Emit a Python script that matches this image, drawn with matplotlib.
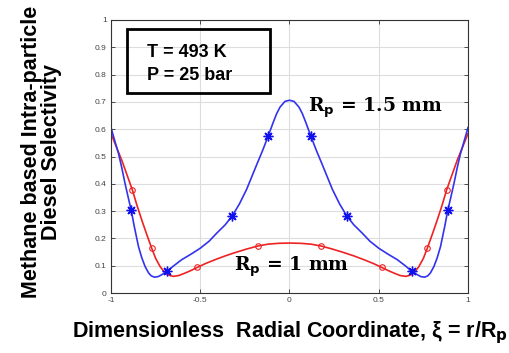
import numpy as np
import matplotlib.pyplot as plt
from matplotlib.patches import Rectangle

# Rp = 1.5 mm (blue curve)
xi_15 = [-1.00, -0.98, -0.958, -0.94, -0.921, -0.90, -0.887, -0.87, -0.846, -0.827,
         -0.809, -0.79, -0.775, -0.757, -0.736, -0.716, -0.686, -0.65, -0.604, -0.55,
         -0.50, -0.45, -0.408, -0.36, -0.32, -0.28, -0.24, -0.21, -0.18, -0.15,
         -0.12, -0.09, -0.072, -0.053, -0.025, 0.0,
         0.025, 0.053, 0.072, 0.09, 0.12, 0.15, 0.18, 0.21, 0.24, 0.28,
         0.32, 0.36, 0.408, 0.45, 0.50, 0.55, 0.604, 0.65, 0.686, 0.716,
         0.736, 0.757, 0.775, 0.79, 0.809, 0.827, 0.846, 0.87, 0.887, 0.90,
         0.921, 0.94, 0.958, 0.98, 1.00]
sel_15 = [0.606, 0.56, 0.511, 0.46, 0.40, 0.34, 0.304, 0.245, 0.170, 0.128,
          0.097, 0.074, 0.063, 0.058, 0.060, 0.067, 0.079, 0.099, 0.122, 0.143,
          0.164, 0.19, 0.219, 0.25, 0.283, 0.327, 0.38, 0.428, 0.476, 0.523,
          0.574, 0.627, 0.657, 0.681, 0.702, 0.706,
          0.702, 0.681, 0.657, 0.627, 0.574, 0.523, 0.476, 0.428, 0.38, 0.327,
          0.283, 0.25, 0.219, 0.19, 0.164, 0.143, 0.122, 0.099, 0.079, 0.067,
          0.060, 0.058, 0.063, 0.074, 0.097, 0.128, 0.170, 0.245, 0.304, 0.34,
          0.40, 0.46, 0.511, 0.56, 0.606]
mk_x_15 = [-0.887, -0.686, -0.32, -0.12, 0.12, 0.32, 0.686, 0.887]
mk_y_15 = [0.304, 0.079, 0.283, 0.574, 0.574, 0.283, 0.079, 0.304]

# Rp = 1 mm (red curve)
xi_10 = [-1.00, -0.97, -0.94, -0.91, -0.88, -0.855, -0.828, -0.80, -0.772, -0.75,
         -0.725, -0.705, -0.688, -0.67, -0.651, -0.62, -0.585, -0.55, -0.516, -0.47,
         -0.417, -0.36, -0.305, -0.24, -0.178, -0.12, -0.06, 0.0,
         0.06, 0.12, 0.178, 0.24, 0.305, 0.36, 0.417, 0.47, 0.516, 0.55,
         0.585, 0.62, 0.651, 0.67, 0.688, 0.705, 0.725, 0.75, 0.772, 0.80,
         0.828, 0.855, 0.88, 0.91, 0.94, 0.97, 1.00]
sel_10 = [0.584, 0.535, 0.487, 0.432, 0.377, 0.322, 0.268, 0.215, 0.164, 0.127,
          0.097, 0.080, 0.070, 0.064, 0.061, 0.064, 0.073, 0.083, 0.094, 0.108,
          0.122, 0.136, 0.148, 0.161, 0.172, 0.179, 0.182, 0.183,
          0.182, 0.179, 0.172, 0.161, 0.148, 0.136, 0.122, 0.108, 0.094, 0.083,
          0.073, 0.064, 0.061, 0.064, 0.070, 0.080, 0.097, 0.127, 0.164, 0.215,
          0.268, 0.322, 0.377, 0.432, 0.487, 0.535, 0.584]
mk_x_10 = [-0.88, -0.772, -0.516, -0.178, 0.178, 0.516, 0.772, 0.88]
mk_y_10 = [0.377, 0.164, 0.094, 0.172, 0.172, 0.094, 0.164, 0.377]

x_ticks = [-1, -0.5, 0, 0.5, 1]
x_labels = ["-1", "-0.5", "0", "0.5", "1"]
y_ticks = [0, 0.1, 0.2, 0.3, 0.4, 0.5, 0.6, 0.7, 0.8, 0.9, 1]
y_labels = ["0", "0.1", "0.2", "0.3", "0.4", "0.5", "0.6", "0.7", "0.8", "0.9", "1"]

plt.rcParams['font.family'] = ['Liberation Sans', 'DejaVu Sans']

fig = plt.figure(figsize=(5.10, 3.53), dpi=100)
ax = fig.add_axes([111/510, 60/353, 357/510, 273/353])

ax.plot(xi_10, sel_10, color="#ee2222", lw=1.2)
ax.plot(mk_x_10, mk_y_10, ls="none", marker="o", ms=4, mfc="none", mec="#ee2222", mew=0.8)
ax.plot(xi_15, sel_15, color="#3333ee", lw=1.2)
ax.plot(mk_x_15, mk_y_15, ls="none", marker=(8, 2, 0), ms=7, color="#1111ee", mew=1.0)

ax.set_xlim(-1, 1); ax.set_ylim(0, 1)
ax.set_xticks(x_ticks); ax.set_xticklabels(x_labels)
ax.set_yticks(y_ticks); ax.set_yticklabels(y_labels)
ax.tick_params(direction="in", length=3, width=0.6, labelsize=6, labelcolor="#444444",
               color="#333333", top=True, right=True, pad=3)
ax.grid(True, color="#dddddd", lw=0.8)
for s in ax.spines.values():
    s.set_color("#333333"); s.set_linewidth(0.8)

# condition box
ax.add_patch(Rectangle((0.044, 0.731), 0.401, 0.236, transform=ax.transAxes,
                       fill=False, lw=2, ec="black", zorder=5))
ax.text(0.10, 0.864, "T = 493 K", transform=ax.transAxes, fontsize=13,
        fontweight="bold", va="baseline", ha="left")
ax.text(0.10, 0.780, "P = 25 bar", transform=ax.transAxes, fontsize=13,
        fontweight="bold", va="baseline", ha="left")

ax.text(0.553, 0.665, r"R$_\mathbf{p}$ = 1.5 mm", transform=ax.transAxes,
        fontsize=13.5, fontweight="bold", family="DejaVu Serif", va="baseline")
ax.text(0.345, 0.08, r"R$_\mathbf{p}$ = 1 mm", transform=ax.transAxes,
        fontsize=13.5, fontweight="bold", family="DejaVu Serif", va="baseline")

fig.text(0.082, 0.569, "Methane based Intra-particle\nDiesel Selectivity", rotation=90,
         ha="center", va="center", fontsize=15.5, fontweight="bold", linespacing=0.95)
fig.text(0.568, 0.045, r"Dimensionless  Radial Coordinate, ξ = r/R$_\mathbf{p}$",
         ha="center", va="baseline", fontsize=15.5, fontweight="bold")

plt.savefig("out.png", dpi=100)
